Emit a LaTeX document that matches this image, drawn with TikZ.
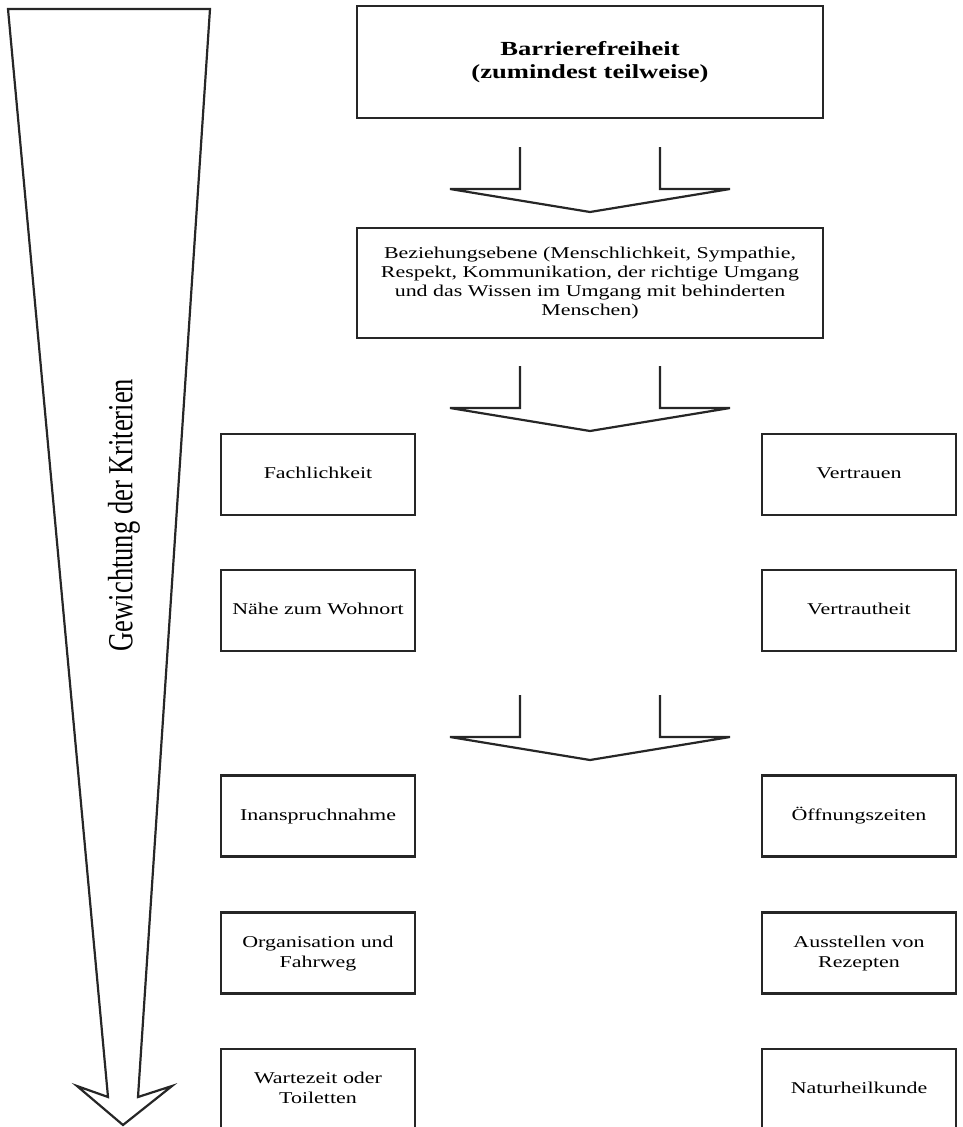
\documentclass[tikz,border=0pt]{standalone}
\usepackage{fontspec}
\setmainfont{Liberation Serif}
\usepackage{graphicx}
\newcommand{\wtext}[1]{\scalebox{1.33}[1]{\begin{tabular}{@{}c@{}}#1\end{tabular}}}
\tikzset{
  outline/.style={draw=black!85, line width=2.2pt, line join=miter},
  bigbox/.style={outline, minimum width=466pt, inner sep=0pt},
  sidebox/.style={outline, minimum width=194pt, minimum height=81pt, inner sep=0pt,
    font=\fontsize{16.5}{20}\selectfont},
  hollowarrow/.pic={
    \draw[outline] (-70,0) -- (-70,42) -- (-140,42) -- (0,65) -- (140,42) -- (70,42) -- (70,0);
  }
}
\begin{document}
\begin{tikzpicture}[x=1pt,y=-1pt]
\useasboundingbox (0,0) rectangle (962,1127);
\clip (0,0) rectangle (962,1127);

% big weighting arrow
\draw[outline] (8,9) -- (210,9) -- (138,1097) -- (172,1086) -- (123,1125)
  -- (77,1086) -- (108,1097) -- cycle;
\node[rotate=90, font=\fontsize{26.5}{30}\selectfont] (weight) at (124,515)
  {\scalebox{1}[1.33]{Gewichtung der Kriterien}};

% top boxes
\node[bigbox, minimum height=112pt, font=\fontsize{20}{23}\selectfont\bfseries] (barr) at (590,62)
  {\wtext{Barrierefreiheit\\(zumindest teilweise)}};
\pic at (590,147) {hollowarrow};
\node[bigbox, minimum height=110pt, font=\fontsize{16.5}{19}\selectfont] (bez) at (590,283)
  {\wtext{Beziehungsebene (Menschlichkeit, Sympathie,\\Respekt, Kommunikation, der richtige Umgang\\und das Wissen im Umgang mit behinderten\\Menschen)}};
\pic at (590,366) {hollowarrow};

% side boxes
\node[sidebox] (fach) at (318,474.5) {\wtext{Fachlichkeit}};
\node[sidebox] (vertrauen) at (859,474.5) {\wtext{Vertrauen}};
\node[sidebox] (naehe) at (318,610.5) {\wtext{Nähe zum Wohnort}};
\node[sidebox] (vertraut) at (859,610.5) {\wtext{Vertrautheit}};

\pic at (590,695) {hollowarrow};

\node[sidebox] (inan) at (318,816) {\wtext{Inanspruchnahme}};
\node[sidebox] (oeff) at (859,816) {\wtext{Öffnungszeiten}};
\node[sidebox] (orga) at (318,953) {\wtext{Organisation und\\Fahrweg}};
\node[sidebox] (rez) at (859,953) {\wtext{Ausstellen von\\Rezepten}};
\node[sidebox] (warte) at (318,1089.5) {\wtext{Wartezeit oder\\Toiletten}};
\node[sidebox] (natur) at (859,1089.5) {\wtext{Naturheilkunde}};
\end{tikzpicture}
\end{document}
